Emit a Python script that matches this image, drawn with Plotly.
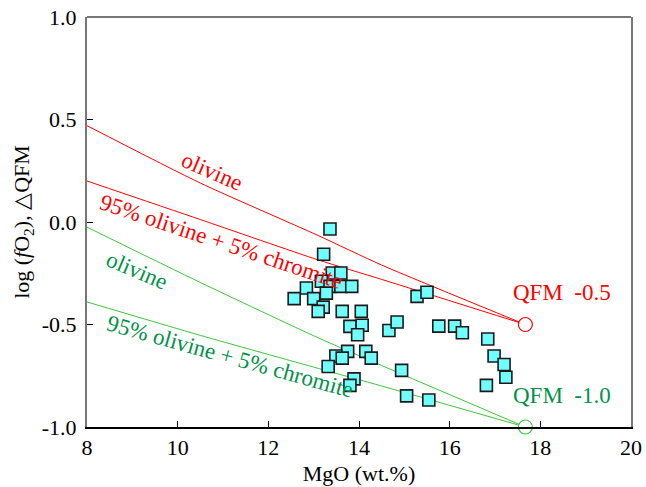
import plotly.graph_objects as go

# ---------------- data ----------------
mgo = [13.36, 13.22, 13.41, 13.60, 13.17, 12.84, 13.36, 13.60, 13.84, 12.57,
       13.00, 13.28, 13.21, 13.10, 13.63, 14.05, 13.80, 14.07, 13.97, 14.66,
       14.84, 15.28, 15.50, 15.76, 16.11, 16.28, 13.75, 13.49, 13.63, 14.15,
       14.27, 13.32, 13.89, 13.80, 14.94, 15.05, 15.54, 16.84, 16.98, 17.20,
       17.24, 16.81]
dqfm = [-0.034, -0.157, -0.249, -0.249, -0.289, -0.322, -0.314, -0.314, -0.314, -0.374,
        -0.374, -0.347, -0.415, -0.436, -0.436, -0.436, -0.509, -0.504, -0.550, -0.529,
        -0.488, -0.363, -0.343, -0.508, -0.508, -0.540, -0.631, -0.654, -0.664, -0.631,
        -0.664, -0.705, -0.765, -0.797, -0.724, -0.848, -0.868, -0.571, -0.654, -0.695,
        -0.757, -0.797]

curve_x = [8.0, 10.5, 13.1, 14.5, 17.67]
red_olivine = [0.47, 0.19, -0.066, -0.21, -0.5]
red_ol_chr = [0.20, 0.012, -0.185, -0.28, -0.5]
green_olivine = [-0.025, -0.295, -0.565, -0.70, -1.0]
green_ol_chr = [-0.39, -0.553, -0.714, -0.80, -1.0]

qfm_x = [17.67, 17.67]
qfm_y = [-0.5, -1.0]
qfm_labels = ["QFM\u00a0\u00a0-0.5", "QFM\u00a0\u00a0-1.0"]

x_ticks = [8, 10, 12, 14, 16, 18, 20]
y_ticks = [-1.0, -0.5, 0.0, 0.5, 1.0]
y_tick_text = ["-1.0", "-0.5", "0.0", "0.5", "1.0"]

RED = "#FF0000"
GREEN_LINE = "#3DC43D"
GREEN_TEXT = "#00924A"
FONT = "Liberation Serif"

fig = go.Figure()

for ys, col in [(red_olivine, RED), (red_ol_chr, RED),
                (green_olivine, GREEN_LINE), (green_ol_chr, GREEN_LINE)]:
    fig.add_trace(go.Scatter(x=curve_x, y=ys, mode="lines",
                             line=dict(color=col, width=1, shape="spline", smoothing=0.6),
                             showlegend=False, hoverinfo="skip"))

fig.add_trace(go.Scatter(x=mgo, y=dqfm, mode="markers",
                         marker=dict(symbol="square", size=12, color="#70FFFF",
                                     line=dict(color="#1A1A1A", width=1.6)),
                         showlegend=False))

fig.add_trace(go.Scatter(x=qfm_x, y=qfm_y, mode="markers",
                         marker=dict(symbol="circle", size=14, color="white",
                                     line=dict(color=[RED, GREEN_LINE], width=1.2)),
                         cliponaxis=False, showlegend=False))

# curve labels
labels = [
    ("olivine", 10.76, 0.245, 23.5, RED),
    ("95% olivine + 5% chromite", 10.95, -0.095, 18.5, RED),
    ("olivine", 9.10, -0.236, 23, GREEN_TEXT),
    ("95% olivine + 5% chromite", 11.15, -0.655, 15.5, GREEN_TEXT),
]
for txt, lx, ly, ang, col in labels:
    fig.add_annotation(x=lx, y=ly, xref="x", yref="y", text=txt, showarrow=False,
                       textangle=ang, font=dict(family=FONT, size=23, color=col))

for lab, ly, col in [(qfm_labels[0], qfm_y[0], RED), (qfm_labels[1], qfm_y[1], GREEN_TEXT)]:
    fig.add_annotation(x=qfm_x[0], y=ly, xref="x", yref="y", text=lab, showarrow=False,
                       xanchor="left", yanchor="middle", xshift=-14, yshift=32,
                       font=dict(family=FONT, size=23, color=col))

# top frame line
fig.add_shape(type="line", xref="paper", yref="paper", x0=0, x1=1, y0=1, y1=1,
              line=dict(color="#777777", width=2))

fig.update_layout(
    width=646, height=487,
    margin=dict(l=87, r=15, t=17, b=60),
    paper_bgcolor="white", plot_bgcolor="white",
    font=dict(family=FONT, size=22, color="black"),
    xaxis=dict(range=[8, 20], tickvals=x_ticks, ticks="inside", ticklen=6,
               tickcolor="black", showgrid=False, zeroline=False, automargin=False,
               showline=True, linecolor="black", linewidth=2, mirror=False,
               tickfont=dict(family=FONT, size=22),
               title=dict(text="MgO (wt.%)", font=dict(family=FONT, size=22), standoff=6)),
    yaxis=dict(range=[-1, 1], tickvals=y_ticks, ticktext=y_tick_text, ticks="inside",
               ticklen=6, tickcolor="black", showgrid=False, zeroline=False, automargin=False,
               showline=True, linecolor="#777777", linewidth=2, mirror=True,
               ticklabelstandoff=4,
               tickfont=dict(family=FONT, size=22),
               title=dict(text="log (<i>f</i>O<sub>2</sub>), \u25b3QFM",
                          font=dict(family=FONT, size=22), standoff=6)),
)

fig.write_html("out.html")
